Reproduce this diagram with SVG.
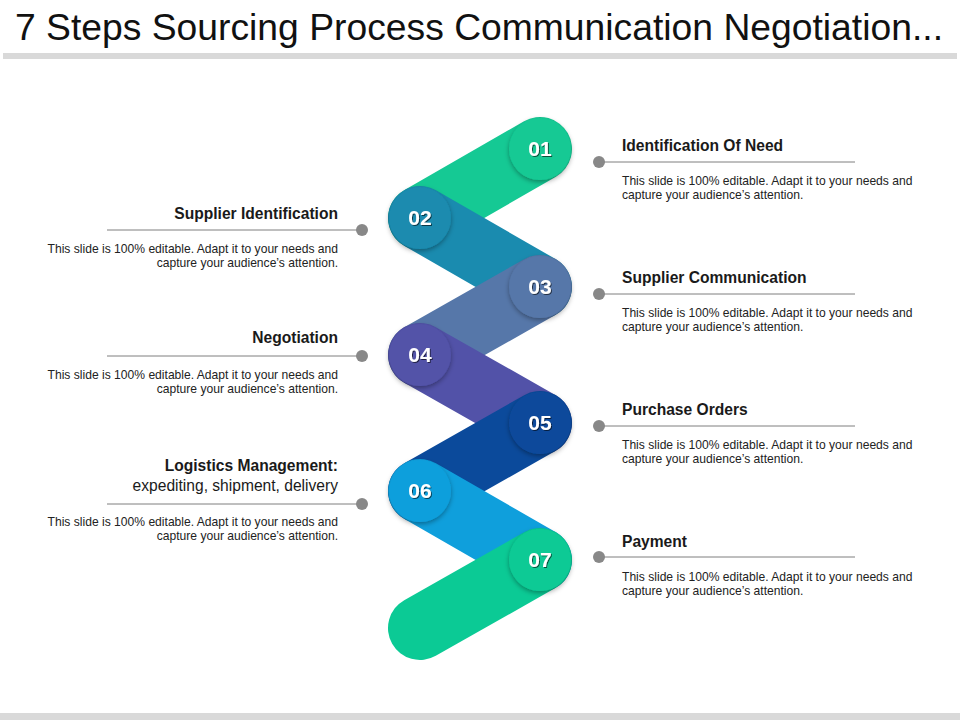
<svg xmlns="http://www.w3.org/2000/svg" width="960" height="720" viewBox="0 0 960 720">
<defs>
<filter id="cs" x="-30%" y="-30%" width="160%" height="160%"><feDropShadow dx="0" dy="2" stdDeviation="2.5" flood-color="#000" flood-opacity="0.35"/></filter>
<filter id="ts" x="-20%" y="-20%" width="140%" height="140%"><feDropShadow dx="1" dy="1" stdDeviation="0.6" flood-color="#000" flood-opacity="0.6"/></filter>
<style>
.band{stroke-width:64;stroke-linecap:round;fill:none}
.num{font-family:"Liberation Sans",Arial,sans-serif;font-weight:bold;font-size:21px;fill:#fff;text-anchor:middle;filter:url(#ts)}
.ttl{font-family:"Liberation Sans",Arial,sans-serif;font-weight:bold;font-size:15.6px;fill:#1a1a1a}
.sub{font-family:"Liberation Sans",Arial,sans-serif;font-size:15.6px;fill:#1a1a1a}
.desc{font-family:"Liberation Sans",Arial,sans-serif;font-size:12.1px;fill:#222}
.r{text-anchor:end}
.ln{stroke:#7f7f7f;stroke-width:1}
.dot{fill:#888}
</style>
</defs>
<rect width="960" height="720" fill="#fff"/>
<text x="15" y="40" font-family="Liberation Sans, Arial, sans-serif" font-size="36" fill="#111" textLength="928" lengthAdjust="spacingAndGlyphs">7 Steps Sourcing Process Communication Negotiation...</text>
<rect x="3" y="53" width="954" height="6" fill="#d9d9d9"/>
<rect x="0" y="713" width="960" height="7" fill="#d9d9d9"/>

<g id="zigzag">
<g id="step1"><line class="band" x1="540" y1="149" x2="420" y2="218" stroke="#15C994"/><circle cx="540" cy="149" r="31" fill="#15C994" filter="url(#cs)"/><text class="num" x="540" y="156">01</text></g>
<g id="step2"><line class="band" x1="420" y1="218" x2="540" y2="287" stroke="#1A8BAF"/><circle cx="420" cy="218" r="31" fill="#1A8BAF" filter="url(#cs)"/><text class="num" x="420" y="225">02</text></g>
<g id="step3"><line class="band" x1="540" y1="287" x2="420" y2="355" stroke="#5677A9"/><circle cx="540" cy="287" r="31" fill="#5677A9" filter="url(#cs)"/><text class="num" x="540" y="294">03</text></g>
<g id="step4"><line class="band" x1="420" y1="355" x2="540" y2="423" stroke="#5252A8"/><circle cx="420" cy="355" r="31" fill="#5252A8" filter="url(#cs)"/><text class="num" x="420" y="362">04</text></g>
<g id="step5"><line class="band" x1="540" y1="423" x2="420" y2="491" stroke="#0B4A9B"/><circle cx="540" cy="423" r="31" fill="#0B4A9B" filter="url(#cs)"/><text class="num" x="540" y="430">05</text></g>
<g id="step6"><line class="band" x1="420" y1="491" x2="540" y2="560" stroke="#0F9FDC"/><circle cx="420" cy="491" r="31" fill="#0F9FDC" filter="url(#cs)"/><text class="num" x="420" y="498">06</text></g>
<g id="step7"><line class="band" x1="540" y1="560" x2="420" y2="628" stroke="#0BCA95"/><circle cx="540" cy="560" r="31" fill="#0BCA95" filter="url(#cs)"/><text class="num" x="540" y="567">07</text></g>
</g>

<g id="connectors">
<line class="ln" x1="599" y1="162" x2="855" y2="162"/><circle class="dot" cx="599" cy="162" r="6"/>
<line class="ln" x1="599" y1="294" x2="855" y2="294"/><circle class="dot" cx="599" cy="294" r="6"/>
<line class="ln" x1="599" y1="426" x2="855" y2="426"/><circle class="dot" cx="599" cy="426" r="6"/>
<line class="ln" x1="599" y1="557" x2="855" y2="557"/><circle class="dot" cx="599" cy="557" r="6"/>
<line class="ln" x1="107" y1="230" x2="362" y2="230"/><circle class="dot" cx="362" cy="230" r="6"/>
<line class="ln" x1="107" y1="356" x2="362" y2="356"/><circle class="dot" cx="362" cy="356" r="6"/>
<line class="ln" x1="107" y1="504" x2="362" y2="504"/><circle class="dot" cx="362" cy="504" r="6"/>
</g>

<g id="label1"><text class="ttl" x="622" y="151">Identification Of Need</text><text class="desc" x="622" y="185">This slide is 100% editable. Adapt it to your needs and</text><text class="desc" x="622" y="199">capture your audience’s attention.</text></g>
<g id="label3"><text class="ttl" x="622" y="283">Supplier Communication</text><text class="desc" x="622" y="317">This slide is 100% editable. Adapt it to your needs and</text><text class="desc" x="622" y="331">capture your audience’s attention.</text></g>
<g id="label5"><text class="ttl" x="622" y="415">Purchase Orders</text><text class="desc" x="622" y="449">This slide is 100% editable. Adapt it to your needs and</text><text class="desc" x="622" y="463">capture your audience’s attention.</text></g>
<g id="label7"><text class="ttl" x="622" y="547">Payment</text><text class="desc" x="622" y="581">This slide is 100% editable. Adapt it to your needs and</text><text class="desc" x="622" y="595">capture your audience’s attention.</text></g>
<g id="label2"><text class="ttl r" x="338" y="219">Supplier Identification</text><text class="desc r" x="338" y="253">This slide is 100% editable. Adapt it to your needs and</text><text class="desc r" x="338" y="267">capture your audience’s attention.</text></g>
<g id="label4"><text class="ttl r" x="338" y="343">Negotiation</text><text class="desc r" x="338" y="379">This slide is 100% editable. Adapt it to your needs and</text><text class="desc r" x="338" y="393">capture your audience’s attention.</text></g>
<g id="label6"><text class="ttl r" x="338" y="471">Logistics Management:</text><text class="sub r" x="338" y="491">expediting, shipment, delivery</text><text class="desc r" x="338" y="526">This slide is 100% editable. Adapt it to your needs and</text><text class="desc r" x="338" y="540">capture your audience’s attention.</text></g>
</svg>
